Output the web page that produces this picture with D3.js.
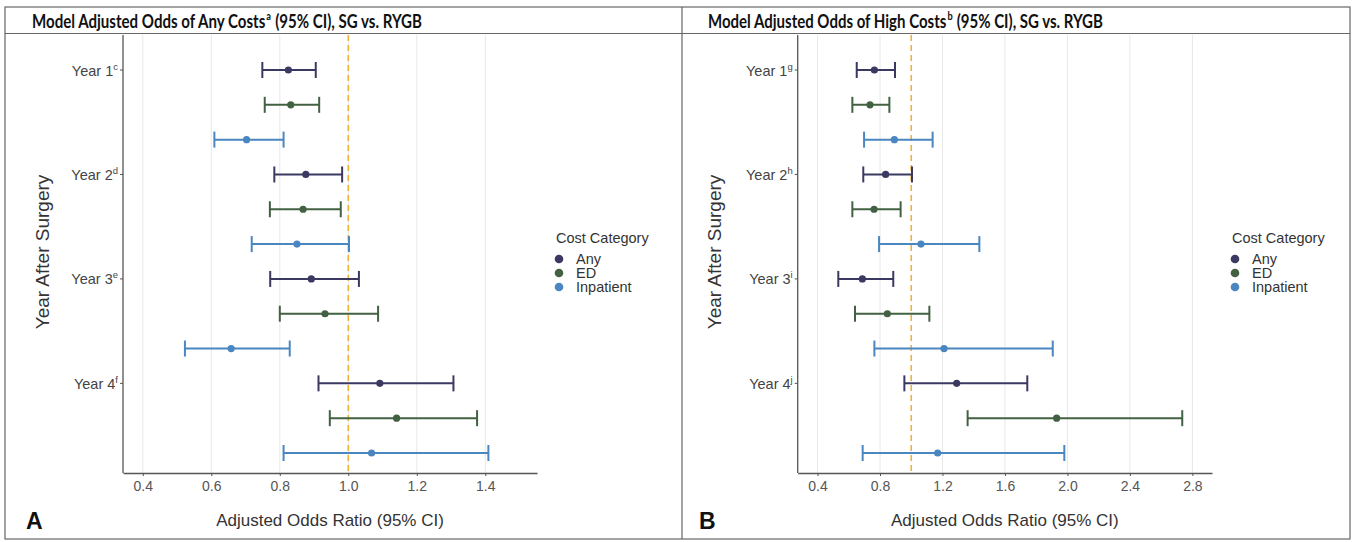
<!DOCTYPE html>
<html><head><meta charset="utf-8">
<script src="https://cdn.jsdelivr.net/npm/d3@7"></script>
<style>
body{margin:0;background:#fff;}
svg{display:block;}
text{white-space:pre;}
</style></head>
<body><svg id="c" width="1357" height="542"></svg>
<script>
// ---------- DATA ----------
const years = ["Year 1","Year 2","Year 3","Year 4"];
const categories = ["Any","ED","Inpatient"];
const supA = ["c","d","e","f"];
const supB = ["g","h","i","j"];
const ticksA = [0.4,0.6,0.8,1.0,1.2,1.4];
const ticksB = [0.4,0.8,1.2,1.6,2.0,2.4,2.8];

// Panel A: any costs
const anyEstA  = [0.825,0.876,0.892,1.092];
const anyLowA  = [0.749,0.784,0.772,0.913];
const anyHighA = [0.905,0.982,1.031,1.307];
const edEstA   = [0.832,0.868,0.932,1.141];
const edLowA   = [0.756,0.771,0.800,0.946];
const edHighA  = [0.915,0.978,1.087,1.376];
const inpEstA  = [0.703,0.850,0.658,1.068];
const inpLowA  = [0.609,0.718,0.523,0.811];
const inpHighA = [0.811,1.002,0.829,1.409];

// Panel B: high costs
const anyEstB  = [0.764,0.836,0.687,1.291];
const anyLowB  = [0.651,0.693,0.533,0.956];
const anyHighB = [0.896,1.005,0.885,1.743];
const edEstB   = [0.736,0.762,0.847,1.931];
const edLowB   = [0.623,0.623,0.640,1.361];
const edHighB  = [0.860,0.932,1.116,2.735];
const inpEstB  = [0.892,1.062,1.210,1.169];
const inpLowB  = [0.698,0.794,0.764,0.689];
const inpHighB = [1.137,1.436,1.906,1.980];

const colors = {"Any":"#3b3862","ED":"#426142","Inpatient":"#4a86c0"};

function build(est, low, high){
  const rows=[];
  years.forEach((y,i)=>{
    categories.forEach((c,j)=>{
      rows.push({year:y,cat:c,key:y+"|"+c,est:est[j][i],low:low[j][i],high:high[j][i]});
    });
  });
  return rows;
}
const dataA = build([anyEstA,edEstA,inpEstA],[anyLowA,edLowA,inpLowA],[anyHighA,edHighA,inpHighA]);
const dataB = build([anyEstB,edEstB,inpEstB],[anyLowB,edLowB,inpLowB],[anyHighB,edHighB,inpHighB]);

const svg = d3.select("#c");
const FONT = "'Liberation Sans', Arimo, Arial, sans-serif";

// frame
const frame = svg.append("g").attr("fill","none").attr("stroke","#666").attr("stroke-width",1.2);
frame.append("rect").attr("x",5).attr("y",7).attr("width",1345).attr("height",532);
frame.append("line").attr("x1",5).attr("x2",1350).attr("y1",33.5).attr("y2",33.5);
frame.append("line").attr("x1",682).attr("x2",682).attr("y1",7).attr("y2",539);

function title(x, main, sup, rest, len){
  const g = svg.append("g");
  const attrs = t => t.attr("font-family","Lato, 'Open Sans', sans-serif").attr("font-weight","bold").attr("fill","#111");
  const t1 = attrs(g.append("text").attr("x",0).attr("y",28).attr("font-size",18).text(main));
  const w1 = t1.node().getComputedTextLength();
  const t2 = attrs(g.append("text").attr("x",w1+1).attr("y",20).attr("font-size",11).attr("font-weight","normal").text(sup));
  const w2 = t2.node().getComputedTextLength();
  const t3 = attrs(g.append("text").attr("x",w1+w2+1.5).attr("y",28).attr("font-size",18).text(rest));
  const total = w1+w2+1.5+t3.node().getComputedTextLength();
  g.attr("transform",`translate(${x},0) scale(${len/total},1)`);
}
title(32,"Model Adjusted Odds of Any Costs","a"," (95% CI), SG vs. RYGB",390);
title(708,"Model Adjusted Odds of High Costs","b"," (95% CI), SG vs. RYGB",395);

function panel(opts){
  const {data, x0, x1, domain, ticks, sups, letterX, letter, legendX, ytitleX} = opts;
  const top=35, bottom=473;
  const x = d3.scaleLinear().domain(domain).range([x0,x1]);
  const y = d3.scalePoint().domain(data.map(d=>d.key)).range([70,453]);
  const g = svg.append("g");

  // gridlines
  g.selectAll(".grid").data(ticks).join("line")
    .attr("x1",d=>x(d)).attr("x2",d=>x(d)).attr("y1",top).attr("y2",bottom)
    .attr("stroke","#e8e8e8").attr("stroke-width",1);

  // reference line
  g.append("line").attr("x1",x(1)).attr("x2",x(1)).attr("y1",top).attr("y2",bottom)
    .attr("stroke","#f0b23a").attr("stroke-width",1.6).attr("stroke-dasharray","6,4");

  // error bars
  const eb = g.selectAll(".eb").data(data).join("g").attr("stroke",d=>colors[d.cat]).attr("stroke-width",2);
  eb.append("line").attr("x1",d=>x(d.low)).attr("x2",d=>x(d.high)).attr("y1",d=>y(d.key)).attr("y2",d=>y(d.key));
  eb.append("line").attr("x1",d=>x(d.low)).attr("x2",d=>x(d.low)).attr("y1",d=>y(d.key)-8).attr("y2",d=>y(d.key)+8);
  eb.append("line").attr("x1",d=>x(d.high)).attr("x2",d=>x(d.high)).attr("y1",d=>y(d.key)-8).attr("y2",d=>y(d.key)+8);
  g.selectAll(".pt").data(data).join("circle")
    .attr("cx",d=>x(d.est)).attr("cy",d=>y(d.key)).attr("r",3.6).attr("fill",d=>colors[d.cat]);

  // x axis
  const xa = g.append("g").attr("transform",`translate(0,${bottom})`)
    .call(d3.axisBottom(x).tickValues(ticks).tickFormat(d3.format(".1f")).tickSizeInner(3).tickSizeOuter(0));
  xa.select(".domain").attr("stroke","#555").attr("stroke-width",1.3);
  xa.selectAll(".tick line").attr("stroke","#555");
  xa.selectAll("text").attr("font-family",FONT).attr("font-size",14).attr("fill","#555").attr("dy","0.85em");

  // y axis
  const yKeys = years.map(yr=>yr+"|Any");
  g.append("line").attr("x1",x0).attr("x2",x0).attr("y1",top).attr("y2",bottom).attr("stroke","#555").attr("stroke-width",1.3);
  yKeys.forEach((k,i)=>{
    g.append("line").attr("x1",x0-3).attr("x2",x0).attr("y1",y(k)).attr("y2",y(k)).attr("stroke","#555");
    const t = g.append("text").attr("x",x0-5).attr("y",y(k)+5.5).attr("text-anchor","end")
      .attr("font-family",FONT).attr("font-size",14.5).attr("fill","#444");
    t.append("tspan").text(years[i]);
    t.append("tspan").attr("font-size",9.5).attr("dy",-6).text(sups[i]);
  });

  // axis titles
  g.append("text").attr("x",(x0+x1)/2).attr("y",526).attr("text-anchor","middle")
    .attr("font-family",FONT).attr("font-size",17).attr("fill","#333").text("Adjusted Odds Ratio (95% CI)");
  g.append("text").attr("transform",`translate(${ytitleX},252) rotate(-90)`).attr("text-anchor","middle")
    .attr("font-family",FONT).attr("font-size",19).attr("fill","#333").text("Year After Surgery");

  // panel letter
  g.append("text").attr("x",letterX).attr("y",529).attr("font-family",FONT).attr("font-weight","bold")
    .attr("font-size",23).attr("fill","#111").text(letter);

  // legend
  const lg = g.append("g").attr("transform",`translate(${legendX},0)`);
  lg.append("text").attr("x",0).attr("y",243).attr("font-family",FONT).attr("font-size",14.5).attr("fill","#333").text("Cost Category");
  categories.forEach((c,i)=>{
    const yy = 259 + i*14;
    lg.append("circle").attr("cx",3).attr("cy",yy).attr("r",4.3).attr("fill",colors[c]);
    lg.append("text").attr("x",20).attr("y",yy+5).attr("font-family",FONT).attr("font-size",14.5).attr("fill","#333").text(c);
  });
}

panel({data:dataA, x0:123, x1:537, domain:[1+(123-348.3)/342.5, 1+(537-348.3)/342.5], ticks:ticksA,
  sups:supA, letterX:26, letter:"A", legendX:556, ytitleX:49});
panel({data:dataB, x0:797.7, x1:1212, domain:[0.8+(797.7-880)/156.2, 0.8+(1212-880)/156.2], ticks:ticksB,
  sups:supB, letterX:699, letter:"B", legendX:1232, ytitleX:721});
</script>
</body></html>
